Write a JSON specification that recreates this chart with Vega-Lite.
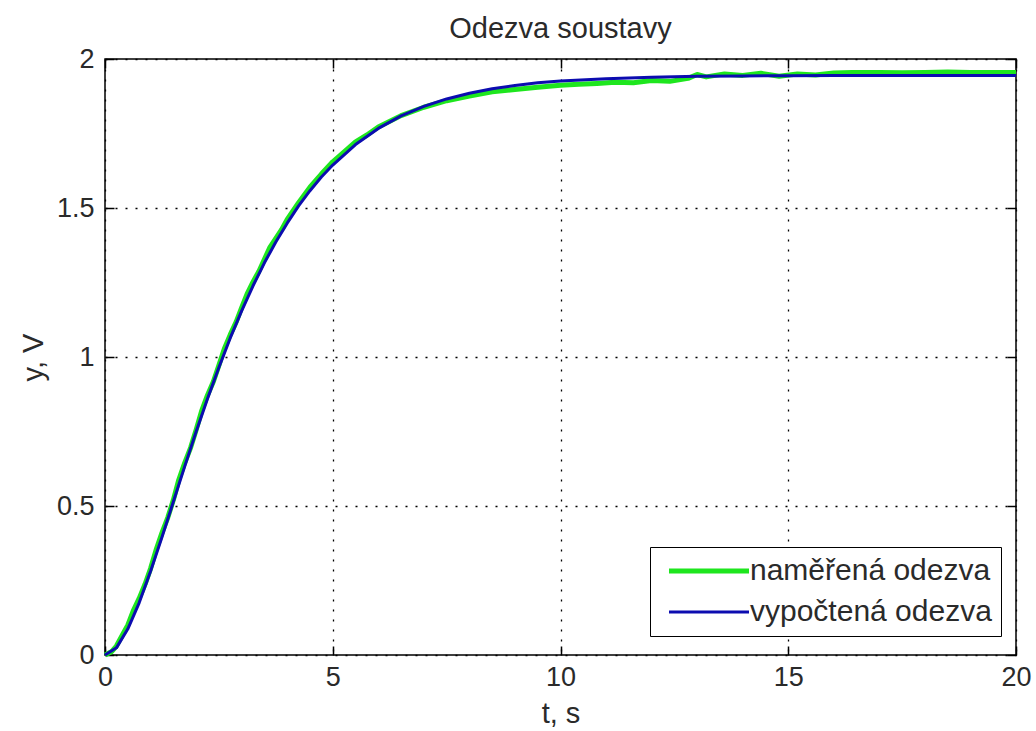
{
  "$schema": "https://vega.github.io/schema/vega-lite/v6.json",
  "width": 911,
  "height": 596,
  "autosize": "none",
  "padding": {"left": 105, "top": 59, "right": 20, "bottom": 76},
  "background": "white",
  "config": {
    "font": "Liberation Sans",
    "view": {"stroke": "black", "strokeWidth": 1.5},
    "axis": {
      "domain": false,
      "grid": true,
      "gridColor": "black",
      "gridDash": [2, 8],
      "gridWidth": 1.3,
      "gridOpacity": 1,
      "tickColor": "black",
      "tickSize": -9,
      "tickWidth": 1.5,
      "labelFont": "Liberation Sans",
      "labelFontSize": 27,
      "labelColor": "#2a2a2a",
      "labelFlush": false,
      "titleFont": "Liberation Sans",
      "titleFontSize": 29,
      "titleFontWeight": "normal",
      "titleColor": "#2a2a2a"
    },
    "legend": {
      "strokeColor": "black",
      "fillColor": "white",
      "padding": 9,
      "labelFont": "Liberation Sans",
      "labelFontSize": 30,
      "labelColor": "#2a2a2a",
      "labelLimit": 0
    }
  },
  "title": {"text": "Odezva soustavy", "fontSize": 29, "fontWeight": "normal", "color": "#2a2a2a", "font": "Liberation Sans", "offset": 1},
  "data": {
    "values": [
      {"series": "naměřená odezva", "t": 0, "y": 0},
      {"series": "naměřená odezva", "t": 0.15, "y": 0.012},
      {"series": "naměřená odezva", "t": 0.25, "y": 0.03},
      {"series": "naměřená odezva", "t": 0.4, "y": 0.072},
      {"series": "naměřená odezva", "t": 0.5, "y": 0.1},
      {"series": "naměřená odezva", "t": 0.62, "y": 0.148},
      {"series": "naměřená odezva", "t": 0.75, "y": 0.19},
      {"series": "naměřená odezva", "t": 0.88, "y": 0.238},
      {"series": "naměřená odezva", "t": 1.0, "y": 0.29},
      {"series": "naměřená odezva", "t": 1.12, "y": 0.352},
      {"series": "naměřená odezva", "t": 1.25, "y": 0.41},
      {"series": "naměřená odezva", "t": 1.38, "y": 0.462},
      {"series": "naměřená odezva", "t": 1.5, "y": 0.52},
      {"series": "naměřená odezva", "t": 1.62, "y": 0.588},
      {"series": "naměřená odezva", "t": 1.75, "y": 0.645},
      {"series": "naměřená odezva", "t": 1.88, "y": 0.696},
      {"series": "naměřená odezva", "t": 2.0, "y": 0.755},
      {"series": "naměřená odezva", "t": 2.12, "y": 0.818},
      {"series": "naměřená odezva", "t": 2.25, "y": 0.872},
      {"series": "naměřená odezva", "t": 2.38, "y": 0.918},
      {"series": "naměřená odezva", "t": 2.5, "y": 0.972},
      {"series": "naměřená odezva", "t": 2.62, "y": 1.028},
      {"series": "naměřená odezva", "t": 2.75, "y": 1.075},
      {"series": "naměřená odezva", "t": 2.88, "y": 1.118},
      {"series": "naměřená odezva", "t": 3.0, "y": 1.166},
      {"series": "naměřená odezva", "t": 3.12, "y": 1.212},
      {"series": "naměřená odezva", "t": 3.25, "y": 1.252},
      {"series": "naměřená odezva", "t": 3.38, "y": 1.288},
      {"series": "naměřená odezva", "t": 3.5, "y": 1.328},
      {"series": "naměřená odezva", "t": 3.62, "y": 1.368},
      {"series": "naměřená odezva", "t": 3.75, "y": 1.398},
      {"series": "naměřená odezva", "t": 3.88, "y": 1.428},
      {"series": "naměřená odezva", "t": 4.0, "y": 1.462},
      {"series": "naměřená odezva", "t": 4.25, "y": 1.518},
      {"series": "naměřená odezva", "t": 4.5, "y": 1.57},
      {"series": "naměřená odezva", "t": 4.75, "y": 1.614},
      {"series": "naměřená odezva", "t": 5.0, "y": 1.655},
      {"series": "naměřená odezva", "t": 5.25, "y": 1.688},
      {"series": "naměřená odezva", "t": 5.5, "y": 1.722},
      {"series": "naměřená odezva", "t": 5.75, "y": 1.745},
      {"series": "naměřená odezva", "t": 6.0, "y": 1.772},
      {"series": "naměřená odezva", "t": 6.5, "y": 1.81},
      {"series": "naměřená odezva", "t": 7.0, "y": 1.838},
      {"series": "naměřená odezva", "t": 7.5, "y": 1.86},
      {"series": "naměřená odezva", "t": 8.0, "y": 1.876},
      {"series": "naměřená odezva", "t": 8.5, "y": 1.89},
      {"series": "naměřená odezva", "t": 9.0, "y": 1.898},
      {"series": "naměřená odezva", "t": 9.5, "y": 1.905},
      {"series": "naměřená odezva", "t": 10.0, "y": 1.912},
      {"series": "naměřená odezva", "t": 10.4, "y": 1.915},
      {"series": "naměřená odezva", "t": 10.8, "y": 1.918},
      {"series": "naměřená odezva", "t": 11.2, "y": 1.922},
      {"series": "naměřená odezva", "t": 11.6, "y": 1.92},
      {"series": "naměřená odezva", "t": 12.0, "y": 1.928},
      {"series": "naměřená odezva", "t": 12.4, "y": 1.925},
      {"series": "naměřená odezva", "t": 12.8, "y": 1.935},
      {"series": "naměřená odezva", "t": 13.0, "y": 1.948},
      {"series": "naměřená odezva", "t": 13.2, "y": 1.94},
      {"series": "naměřená odezva", "t": 13.6, "y": 1.95},
      {"series": "naměřená odezva", "t": 14.0, "y": 1.945},
      {"series": "naměřená odezva", "t": 14.4, "y": 1.952},
      {"series": "naměřená odezva", "t": 14.8, "y": 1.942},
      {"series": "naměřená odezva", "t": 15.2, "y": 1.95},
      {"series": "naměřená odezva", "t": 15.6, "y": 1.946},
      {"series": "naměřená odezva", "t": 16.0, "y": 1.953},
      {"series": "naměřená odezva", "t": 16.4, "y": 1.955},
      {"series": "naměřená odezva", "t": 17.0, "y": 1.955},
      {"series": "naměřená odezva", "t": 17.5, "y": 1.954},
      {"series": "naměřená odezva", "t": 18.0, "y": 1.955},
      {"series": "naměřená odezva", "t": 18.5, "y": 1.956},
      {"series": "naměřená odezva", "t": 19.0, "y": 1.955},
      {"series": "naměřená odezva", "t": 19.5, "y": 1.955},
      {"series": "naměřená odezva", "t": 20.0, "y": 1.955},
      {"series": "vypočtená odezva", "t": 0, "y": 0},
      {"series": "vypočtená odezva", "t": 0.25, "y": 0.024},
      {"series": "vypočtená odezva", "t": 0.5, "y": 0.087},
      {"series": "vypočtená odezva", "t": 0.75, "y": 0.175},
      {"series": "vypočtená odezva", "t": 1.0, "y": 0.281},
      {"series": "vypočtená odezva", "t": 1.25, "y": 0.395},
      {"series": "vypočtená odezva", "t": 1.5, "y": 0.514},
      {"series": "vypočtená odezva", "t": 1.75, "y": 0.633},
      {"series": "vypočtená odezva", "t": 2.0, "y": 0.749},
      {"series": "vypočtená odezva", "t": 2.25, "y": 0.86},
      {"series": "vypočtená odezva", "t": 2.5, "y": 0.965},
      {"series": "vypočtená odezva", "t": 2.75, "y": 1.064},
      {"series": "vypočtená odezva", "t": 3.0, "y": 1.155},
      {"series": "vypočtená odezva", "t": 3.25, "y": 1.239},
      {"series": "vypočtená odezva", "t": 3.5, "y": 1.316},
      {"series": "vypočtená odezva", "t": 3.75, "y": 1.386},
      {"series": "vypočtená odezva", "t": 4.0, "y": 1.449},
      {"series": "vypočtená odezva", "t": 4.25, "y": 1.507},
      {"series": "vypočtená odezva", "t": 4.5, "y": 1.558},
      {"series": "vypočtená odezva", "t": 4.75, "y": 1.604},
      {"series": "vypočtená odezva", "t": 5.0, "y": 1.644},
      {"series": "vypočtená odezva", "t": 5.5, "y": 1.713},
      {"series": "vypočtená odezva", "t": 6.0, "y": 1.767},
      {"series": "vypočtená odezva", "t": 6.5, "y": 1.809},
      {"series": "vypočtená odezva", "t": 7.0, "y": 1.841},
      {"series": "vypočtená odezva", "t": 7.5, "y": 1.866},
      {"series": "vypočtená odezva", "t": 8.0, "y": 1.885},
      {"series": "vypočtená odezva", "t": 8.5, "y": 1.9},
      {"series": "vypočtená odezva", "t": 9.0, "y": 1.911},
      {"series": "vypočtená odezva", "t": 9.5, "y": 1.92},
      {"series": "vypočtená odezva", "t": 10.0, "y": 1.926},
      {"series": "vypočtená odezva", "t": 11.0, "y": 1.934},
      {"series": "vypočtená odezva", "t": 12.0, "y": 1.939},
      {"series": "vypočtená odezva", "t": 13.0, "y": 1.942},
      {"series": "vypočtená odezva", "t": 14.0, "y": 1.943},
      {"series": "vypočtená odezva", "t": 15.0, "y": 1.944},
      {"series": "vypočtená odezva", "t": 16.0, "y": 1.945},
      {"series": "vypočtená odezva", "t": 18.0, "y": 1.945},
      {"series": "vypočtená odezva", "t": 20.0, "y": 1.945}
    ]
  },
  "layer": [
    {
      "mark": {"type": "line", "strokeCap": "butt", "strokeJoin": "round"},
      "encoding": {
        "x": {"field": "t", "type": "quantitative", "scale": {"domain": [0, 20], "nice": false},
              "axis": {"orient": "bottom", "values": [0, 5, 10, 15, 20], "title": "t, s", "labelPadding": 18, "titlePadding": 9}},
        "y": {"field": "y", "type": "quantitative", "scale": {"domain": [0, 2], "nice": false},
              "axis": {"orient": "left", "values": [0, 0.5, 1, 1.5, 2], "format": "~g", "title": "y, V", "labelPadding": 20, "titlePadding": 8}},
        "color": {"field": "series", "type": "nominal",
                  "scale": {"domain": ["naměřená odezva", "vypočtená odezva"], "range": ["#1ee61e", "#0c0cb0"]},
                  "legend": {"title": null, "orient": "none", "legendX": 545, "legendY": 488,
                             "symbolType": "M-4,0H4", "symbolSize": 400, "symbolOffset": 35, "labelOffset": 26, "rowPadding": 11}},
        "strokeWidth": {"field": "series", "type": "nominal",
                        "scale": {"domain": ["naměřená odezva", "vypočtená odezva"], "range": [5, 3]}}
      }
    },
    {
      "mark": {"type": "point", "opacity": 0},
      "encoding": {
        "x": {"field": "t", "type": "quantitative", "scale": {"domain": [0, 20], "nice": false},
              "axis": {"orient": "top", "values": [0, 5, 10, 15, 20], "labels": false, "grid": false, "title": null}},
        "y": {"field": "y", "type": "quantitative", "scale": {"domain": [0, 2], "nice": false},
              "axis": {"orient": "right", "values": [0, 0.5, 1, 1.5, 2], "labels": false, "grid": false, "title": null}}
      }
    }
  ],
  "resolve": {"axis": {"x": "independent", "y": "independent"}}
}
